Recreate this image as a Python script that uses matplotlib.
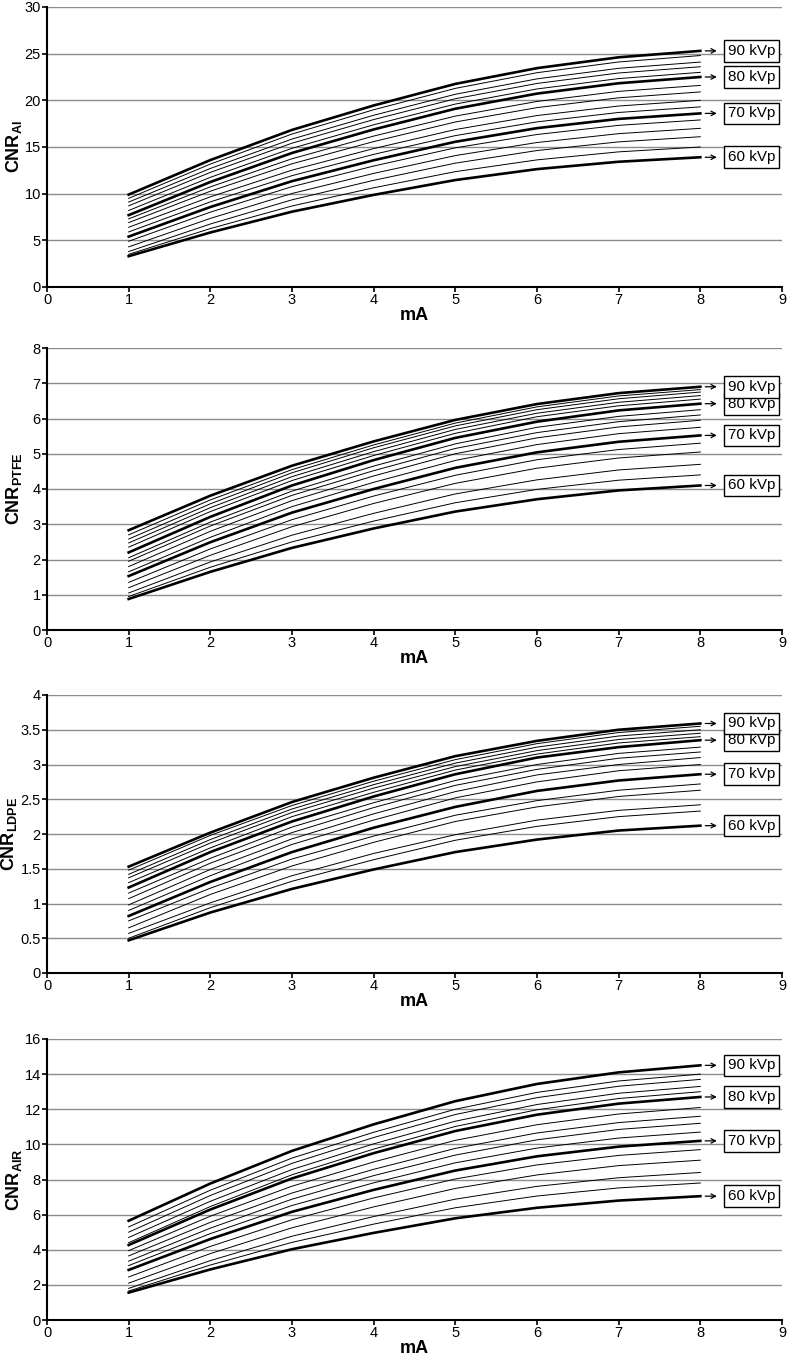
import matplotlib
matplotlib.use("Agg")
import matplotlib.pyplot as plt

plt.rcParams['font.family'] = ['Liberation Sans', 'DejaVu Sans']
plt.rcParams['mathtext.default'] = 'regular'

mA = [1, 2, 3, 4, 5, 6, 7, 8]
kvp = [60, 62, 64, 66, 68, 70, 72, 74, 76, 78, 80, 82, 84, 86, 88, 90]
labelled = [60, 70, 80, 90]

# CNR, one row per kVp (60..90 in steps of 2)
cnr_al = [
    [3.30, 5.84, 8.07, 9.87, 11.46, 12.63, 13.42, 13.90],
    [3.50, 6.26, 8.68, 10.63, 12.36, 13.62, 14.48, 15.00],
    [3.80, 6.75, 9.34, 11.43, 13.27, 14.62, 15.55, 16.10],
    [4.30, 7.35, 10.02, 12.17, 14.08, 15.48, 16.43, 17.00],
    [4.90, 8.02, 10.75, 12.96, 14.91, 16.34, 17.32, 17.90],
    [5.40, 8.57, 11.34, 13.58, 15.56, 17.02, 18.01, 18.60],
    [5.90, 9.12, 11.93, 14.21, 16.22, 17.69, 18.70, 19.30],
    [6.40, 9.66, 12.52, 14.83, 16.87, 18.37, 19.39, 20.00],
    [6.90, 10.26, 13.20, 15.58, 17.68, 19.22, 20.27, 20.90],
    [7.30, 10.73, 13.74, 16.17, 18.31, 19.88, 20.96, 21.60],
    [7.70, 11.25, 14.36, 16.88, 19.10, 20.72, 21.83, 22.50],
    [8.20, 11.75, 14.86, 17.38, 19.60, 21.22, 22.33, 23.00],
    [8.70, 12.28, 15.41, 17.94, 20.17, 21.81, 22.93, 23.60],
    [9.10, 12.70, 15.85, 18.40, 20.65, 22.30, 23.43, 24.10],
    [9.50, 13.17, 16.39, 18.99, 21.28, 22.96, 24.11, 24.80],
    [9.90, 13.60, 16.83, 19.45, 21.76, 23.45, 24.61, 25.30],
]

cnr_ptfe = [
    [0.88, 1.65, 2.33, 2.88, 3.36, 3.71, 3.96, 4.10],
    [0.95, 1.78, 2.50, 3.09, 3.61, 3.99, 4.25, 4.40],
    [1.05, 1.93, 2.69, 3.31, 3.86, 4.26, 4.54, 4.70],
    [1.20, 2.12, 2.93, 3.59, 4.16, 4.59, 4.88, 5.05],
    [1.35, 2.30, 3.13, 3.80, 4.39, 4.83, 5.12, 5.30],
    [1.53, 2.49, 3.33, 4.00, 4.60, 5.04, 5.34, 5.52],
    [1.65, 2.63, 3.50, 4.19, 4.81, 5.26, 5.57, 5.75],
    [1.80, 2.80, 3.67, 4.37, 5.00, 5.45, 5.76, 5.95],
    [1.95, 2.95, 3.82, 4.52, 5.15, 5.60, 5.91, 6.10],
    [2.05, 3.06, 3.94, 4.65, 5.28, 5.75, 6.06, 6.25],
    [2.20, 3.21, 4.10, 4.82, 5.45, 5.91, 6.23, 6.42],
    [2.35, 3.36, 4.24, 4.95, 5.58, 6.05, 6.36, 6.55],
    [2.47, 3.47, 4.35, 5.06, 5.69, 6.15, 6.46, 6.65],
    [2.58, 3.58, 4.46, 5.17, 5.79, 6.25, 6.56, 6.75],
    [2.70, 3.69, 4.55, 5.25, 5.87, 6.33, 6.64, 6.82],
    [2.83, 3.81, 4.66, 5.35, 5.96, 6.41, 6.72, 6.90],
]

cnr_ldpe = [
    [0.47, 0.87, 1.21, 1.49, 1.74, 1.92, 2.05, 2.12],
    [0.50, 0.94, 1.32, 1.63, 1.91, 2.11, 2.25, 2.33],
    [0.57, 1.01, 1.40, 1.72, 1.99, 2.20, 2.34, 2.42],
    [0.65, 1.13, 1.54, 1.88, 2.18, 2.39, 2.54, 2.63],
    [0.75, 1.22, 1.64, 1.97, 2.27, 2.48, 2.63, 2.72],
    [0.82, 1.31, 1.74, 2.09, 2.39, 2.62, 2.77, 2.86],
    [0.90, 1.40, 1.85, 2.20, 2.52, 2.75, 2.91, 3.00],
    [0.98, 1.49, 1.93, 2.29, 2.61, 2.85, 3.00, 3.10],
    [1.07, 1.58, 2.02, 2.38, 2.70, 2.93, 3.09, 3.18],
    [1.15, 1.65, 2.10, 2.45, 2.77, 3.00, 3.16, 3.25],
    [1.23, 1.74, 2.18, 2.54, 2.86, 3.10, 3.25, 3.35],
    [1.30, 1.80, 2.25, 2.60, 2.92, 3.15, 3.31, 3.40],
    [1.37, 1.87, 2.31, 2.66, 2.97, 3.20, 3.36, 3.45],
    [1.42, 1.92, 2.36, 2.71, 3.02, 3.25, 3.41, 3.50],
    [1.48, 1.98, 2.41, 2.76, 3.07, 3.30, 3.46, 3.55],
    [1.53, 2.02, 2.46, 2.81, 3.12, 3.34, 3.50, 3.59],
]

cnr_air = [
    [1.56, 2.88, 4.03, 4.96, 5.79, 6.39, 6.80, 7.05],
    [1.65, 3.13, 4.42, 5.46, 6.39, 7.06, 7.52, 7.80],
    [1.80, 3.38, 4.77, 5.89, 6.88, 7.61, 8.10, 8.40],
    [2.10, 3.78, 5.25, 6.44, 7.49, 8.26, 8.79, 9.10],
    [2.45, 4.19, 5.71, 6.95, 8.03, 8.83, 9.37, 9.70],
    [2.85, 4.61, 6.16, 7.41, 8.51, 9.32, 9.87, 10.20],
    [3.10, 4.92, 6.52, 7.81, 8.95, 9.79, 10.36, 10.70],
    [3.35, 5.23, 6.88, 8.22, 9.39, 10.26, 10.85, 11.20],
    [3.65, 5.56, 7.23, 8.58, 9.77, 10.65, 11.24, 11.60],
    [3.95, 5.91, 7.62, 9.00, 10.23, 11.12, 11.73, 12.10],
    [4.27, 6.29, 8.06, 9.50, 10.76, 11.69, 12.32, 12.70],
    [4.40, 6.46, 8.27, 9.73, 11.02, 11.97, 12.61, 13.00],
    [4.70, 6.76, 8.57, 10.03, 11.32, 12.27, 12.91, 13.30],
    [5.00, 7.09, 8.92, 10.39, 11.70, 12.66, 13.31, 13.70],
    [5.30, 7.39, 9.22, 10.69, 12.00, 12.96, 13.61, 14.00],
    [5.65, 7.77, 9.63, 11.14, 12.46, 13.44, 14.10, 14.50],
]

panels = [
    (cnr_al, r'CNR$_{Al}$', 30, 5),
    (cnr_ptfe, r'CNR$_{PTFE}$', 8, 1),
    (cnr_ldpe, r'CNR$_{LDPE}$', 4, 0.5),
    (cnr_air, r'CNR$_{AIR}$', 16, 2),
]

# axes boxes in figure pixels: top, bottom
boxes = [(7, 287), (348, 630), (695, 973), (1039, 1320)]
W, H = 797, 1362

fig = plt.figure(figsize=(W / 100, H / 100), dpi=100)

for (data, ylab, ymax, ystep), (top, bot) in zip(panels, boxes):
    ax = fig.add_axes([47 / W, 1 - bot / H, (782 - 47) / W, (bot - top) / H])
    for k, row in zip(kvp, data):
        lw = 1.9 if k in labelled else 0.7
        ax.plot(mA, row, color='black', lw=lw, zorder=3)
        if k in labelled:
            ax.annotate(f'{k} kVp', xy=(8.06, row[-1]), xytext=(8.34, row[-1]),
                        ha='left', va='center', fontsize=11,
                        bbox=dict(boxstyle='square,pad=0.25', fc='white', ec='black', lw=1),
                        arrowprops=dict(arrowstyle='<-', color='black', lw=0.9,
                                        shrinkA=5, shrinkB=0, mutation_scale=8),
                        zorder=4)
    ax.set_xlim(0, 9)
    ax.set_ylim(0, ymax)
    ax.set_xticks(range(0, 10))
    yt = [i * ystep for i in range(int(round(ymax / ystep)) + 1)]
    ax.set_yticks(yt)
    ax.set_yticklabels([f'{v:g}' for v in yt])
    ax.yaxis.grid(True, color='#8c8c8c', lw=1)
    ax.set_axisbelow(True)
    for s in ['top', 'right']:
        ax.spines[s].set_visible(False)
    for s in ['left', 'bottom']:
        ax.spines[s].set_linewidth(1.5)
    ax.tick_params(direction='out', length=3.5, width=1.2, labelsize=10.5, pad=1)
    ax.set_xlabel('mA', fontsize=13, fontweight='bold', labelpad=0)
    ax.set_ylabel(ylab, fontsize=13, fontweight='bold')
    ax.yaxis.set_label_coords(-0.038 if ystep < 1 else -0.031, 0.5)

fig.savefig('out.png', dpi=100)
